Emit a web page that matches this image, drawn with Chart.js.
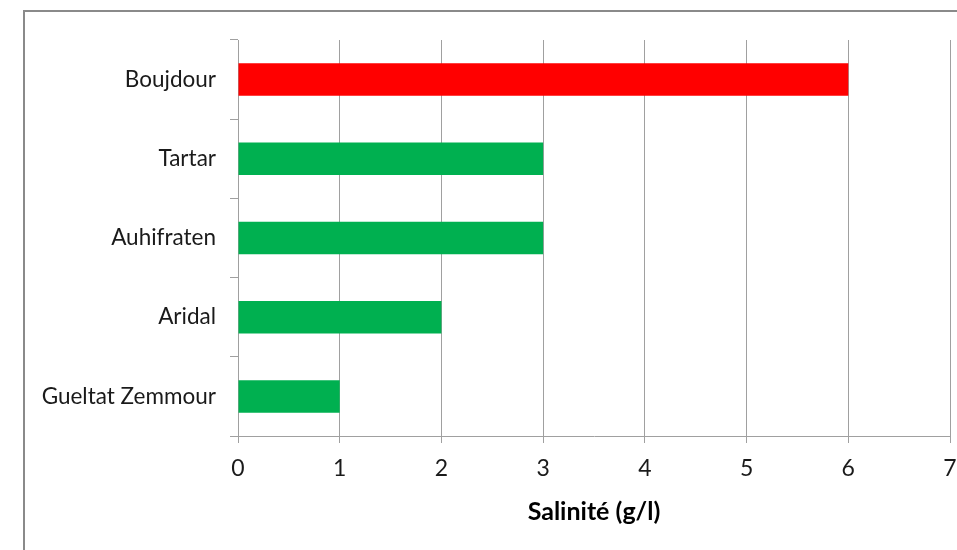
<!DOCTYPE html>
<html>
<head>
<meta charset="utf-8">
<script src="https://cdn.jsdelivr.net/npm/chart.js@4/dist/chart.umd.min.js"></script>
<style>
  html, body { margin: 0; padding: 0; background: #fff; }
  #wrap { position: relative; width: 957px; height: 550px; overflow: hidden; }
  #frame { position: absolute; left: 23px; top: 10px; width: 1000px; height: 600px;
           border-left: 2px solid #8a8a8a; border-top: 2px solid #8a8a8a; }
  canvas { position: absolute; left: 0; top: 0; }
</style>
</head>
<body>
<div id="wrap">
  <div id="frame"></div>
  <canvas id="c" width="957" height="550"></canvas>
</div>
<script>
// Salinity of water by site (g/l)
const sites = ['Boujdour', 'Tartar', 'Auhifraten', 'Aridal', 'Gueltat Zemmour'];
const salinity = [6, 3, 3, 2, 1];
const barColors = ['#ff0000', '#00b050', '#00b050', '#00b050', '#00b050'];
const xTicks = [0, 1, 2, 3, 4, 5, 6, 7];

const gridGray = '#a0a0a0';
const fontFamily = 'Lato, "Open Sans", sans-serif';

new Chart(document.getElementById('c'), {
  type: 'bar',
  data: {
    labels: sites,
    datasets: [{
      data: salinity,
      backgroundColor: barColors,
      borderWidth: 0,
      categoryPercentage: 0.41,
      barPercentage: 1.0
    }]
  },
  options: {
    indexAxis: 'y',
    responsive: false,
    animation: false,
    layout: { padding: { left: 0, top: 40, right: 2, bottom: 0 } },
    plugins: { legend: { display: false }, tooltip: { enabled: false } },
    scales: {
      x: {
        min: 0, max: 7,
        afterBuildTicks: (s) => { s.ticks = xTicks.map(v => ({ value: v })); },
        afterFit: (s) => { s.height = 114; s.paddingRight = 7; },
        grid: {
          color: gridGray, lineWidth: 1,
          drawTicks: true, tickLength: 7, tickColor: gridGray
        },
        border: { display: true, color: gridGray, width: 1 },
        ticks: {
          color: '#1a1a1a', padding: 12,
          font: { family: fontFamily, size: 23 }
        },
        title: {
          display: true, text: 'Salinité (g/l)', color: '#000',
          font: { family: fontFamily, size: 25, weight: 'bold' },
          padding: { top: 0, bottom: 23 }
        }
      },
      y: {
        afterFit: (s) => { s.width = 238; },
        grid: {
          offset: true, drawOnChartArea: false,
          drawTicks: true, tickLength: 8, tickColor: gridGray, lineWidth: 1
        },
        border: { display: true, color: gridGray, width: 1 },
        ticks: {
          color: '#1a1a1a', padding: 14,
          font: { family: fontFamily, size: 22.5 }
        }
      }
    }
  }
});
</script>
</body>
</html>
